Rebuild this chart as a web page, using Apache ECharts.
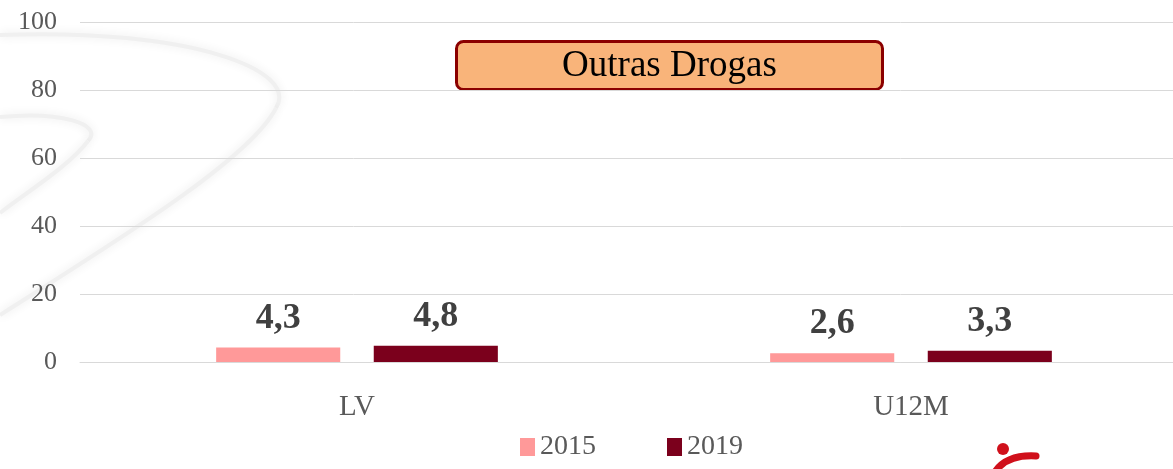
<!DOCTYPE html>
<html>
<head>
<meta charset="utf-8">
<script src="https://cdn.jsdelivr.net/npm/echarts@6/dist/echarts.min.js"></script>
<style>
    html, body { margin: 0; padding: 0; background: #ffffff; }
    #chart { width: 1173px; height: 469px; }
</style>
</head>
<body>
<div id="chart"></div>
<script>
// dados
var categories = ["LV", "U12M"];
var seriesNames = ["2015", "2019"];
var values2015 = [4.3, 2.6];
var values2019 = [4.8, 3.3];
var yTicks = [0, 20, 40, 60, 80, 100];
var colorList = ["#FF9999", "#7B001C"];

var myChart = echarts.init(document.getElementById("chart"));
var serif = "'Liberation Serif', 'Times New Roman', serif";

function labelFmt(p) {
    return String(p.value).replace(".", ",");
}

function makeSeries(name, data, color) {
    return {
        name: name,
        type: "bar",
        data: data,
        barWidth: "22.4%",
        barGap: "27%",
        itemStyle: { color: color },
        label: {
            show: true,
            position: "top",
            distance: 11,
            formatter: labelFmt,
            fontFamily: serif,
            fontWeight: "bold",
            fontSize: 36,
            color: "#404040"
        }
    };
}

// traço decorativo cinzento do fundo
function swoosh(x1, y1, x2, y2, c1x, c1y, c2x, c2y) {
    return {
        type: "bezierCurve",
        z: -10,
        silent: true,
        shape: { x1: x1, y1: y1, x2: x2, y2: y2, cpx1: c1x, cpy1: c1y, cpx2: c2x, cpy2: c2y },
        style: { fill: null, stroke: "#f0f0f0", lineWidth: 4, shadowBlur: 10, shadowColor: "rgba(0,0,0,0.09)" }
    };
}

var option = {
    animation: false,
    backgroundColor: "#ffffff",
    grid: {
        left: 80,
        width: 1108,
        top: 22,
        bottom: 107,
        outerBoundsMode: "none"
    },
    legend: {
        top: 428,
        left: 515,
        itemWidth: 15,
        itemHeight: 18,
        itemGap: 71,
        icon: "rect",
        textStyle: {
            fontFamily: serif,
            fontSize: 28,
            color: "#595959"
        },
        data: seriesNames
    },
    graphic: [
        swoosh(0, 35, 276, 108, 190, 28, 300, 70),
        swoosh(276, 108, 0, 315, 250, 160, 110, 245),
        swoosh(0, 117, 88, 141, 60, 111, 104, 124),
        swoosh(88, 141, 0, 213, 70, 165, 30, 190),
        {
            type: "group",
            left: 455,
            top: 40,
            children: [
                {
                    type: "rect",
                    shape: { x: 0, y: 0, width: 426, height: 48, r: 7 },
                    style: { fill: "#F9B47A", stroke: "#8B0000", lineWidth: 3 }
                },
                {
                    type: "text",
                    x: 213,
                    y: 25,
                    style: {
                        text: "Outras Drogas",
                        fontFamily: serif,
                        fontSize: 37,
                        fill: "#000000",
                        align: "center",
                        verticalAlign: "middle"
                    }
                }
            ]
        },
        // logotipo vermelho no canto
        {
            type: "circle",
            shape: { cx: 1003, cy: 449, r: 6 },
            style: { fill: "#D0101B" }
        },
        {
            type: "bezierCurve",
            shape: { x1: 995, y1: 472, x2: 1036, y2: 456, cpx1: 1003, cpy1: 460, cpx2: 1018, cpy2: 455 },
            style: { fill: null, stroke: "#D0101B", lineWidth: 7, lineCap: "round" }
        }
    ],
    xAxis: {
        type: "category",
        data: categories,
        axisTick: { show: false },
        axisLine: { show: true, lineStyle: { color: "#d9d9d9", width: 1 } },
        axisLabel: {
            margin: 31,
            fontFamily: serif,
            fontSize: 29,
            color: "#595959"
        }
    },
    yAxis: {
        type: "value",
        min: yTicks[0],
        max: yTicks[yTicks.length - 1],
        interval: 20,
        axisLine: { show: false },
        axisTick: { show: false },
        axisLabel: {
            margin: 23,
            fontFamily: serif,
            fontSize: 26,
            color: "#595959"
        },
        splitLine: {
            show: true,
            lineStyle: { color: "#d9d9d9", width: 1 }
        }
    },
    series: [
        makeSeries(seriesNames[0], values2015, colorList[0]),
        makeSeries(seriesNames[1], values2019, colorList[1])
    ]
};

myChart.setOption(option, true);
</script>
</body>
</html>
